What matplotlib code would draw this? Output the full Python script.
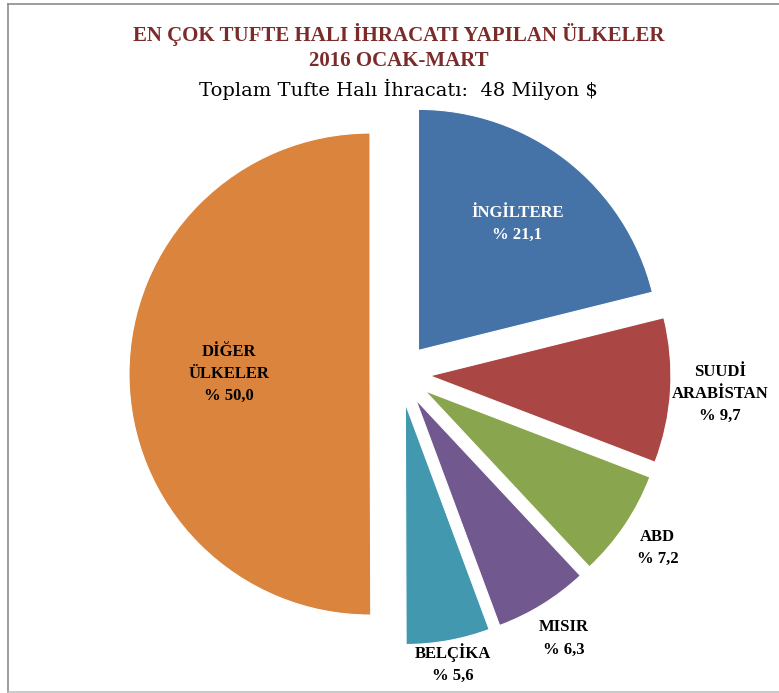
import numpy as np
import matplotlib.pyplot as plt
from matplotlib.lines import Line2D

# data
countries = ["İNGİLTERE", "SUUDİ\nARABİSTAN", "ABD", "MISIR", "BELÇİKA", "DİĞER\nÜLKELER"]
shares = [21.1, 9.7, 7.2, 6.3, 5.6, 50.0]
colors = ["#4572A7", "#AA4643", "#89A54E", "#71588F", "#4198AF", "#DB843D"]
label_colors = ["white", "black", "black", "black", "black", "black"]
label_dist = [0.79, 1.33, 1.29, 1.29, 1.22, 0.71]

W, H = 779, 693
fig = plt.figure(figsize=(W / 100, H / 100), dpi=100)
ax = fig.add_axes([0, 0, 1, 1])

cx, cy, r = 400, H - 374, 241
# explode is in data units here (pixels)
wedges, _ = ax.pie(shares, colors=colors, startangle=90, counterclock=False,
                   explode=[30] * len(shares), center=(cx, cy), radius=r,
                   wedgeprops=dict(edgecolor="white", linewidth=0.8),
                   normalize=True)
ax.set_xlim(0, W)
ax.set_ylim(0, H)
ax.set_aspect("equal")
ax.axis("off")

serif = ["Liberation Serif", "DejaVu Serif"]
for w, name, val, c, d in zip(wedges, countries, shares, label_colors, label_dist):
    ang = np.deg2rad((w.theta1 + w.theta2) / 2)
    x = cx + r * d * np.cos(ang)
    y = cy + r * d * np.sin(ang)
    txt = name + "\n% " + f"{val:.1f}".replace(".", ",")
    ax.text(x, y, txt, ha="center", va="center", fontsize=12, fontweight="bold",
            family=serif, color=c, linespacing=1.5)

fig.text(0.512, 1 - 35 / H, "EN ÇOK TUFTE HALI İHRACATI YAPILAN ÜLKELER", ha="center",
         va="center", fontsize=15, fontweight="bold", family=serif, color="#7B2C2A")
fig.text(0.512, 1 - 61 / H, "2016 OCAK-MART", ha="center", va="center", fontsize=15,
         fontweight="bold", family=serif, color="#7B2C2A")
fig.text(0.512, 1 - 89 / H, "Toplam Tufte Halı İhracatı:  48 Milyon $", ha="center",
         va="center", fontsize=14, family=["DejaVu Serif"], color="black")

# frame
fig.add_artist(Line2D([8 / W, 8 / W], [0, 1 - 4 / H], transform=fig.transFigure,
                      color="#8c8c8c", lw=1.2))
fig.add_artist(Line2D([8 / W, 1], [1 - 4 / H, 1 - 4 / H], transform=fig.transFigure,
                      color="#8c8c8c", lw=1.2))
fig.add_artist(Line2D([8 / W, 1], [1.5 / H, 1.5 / H], transform=fig.transFigure,
                      color="#c0c0c0", lw=1.2))

fig.savefig("out.png", dpi=100)
